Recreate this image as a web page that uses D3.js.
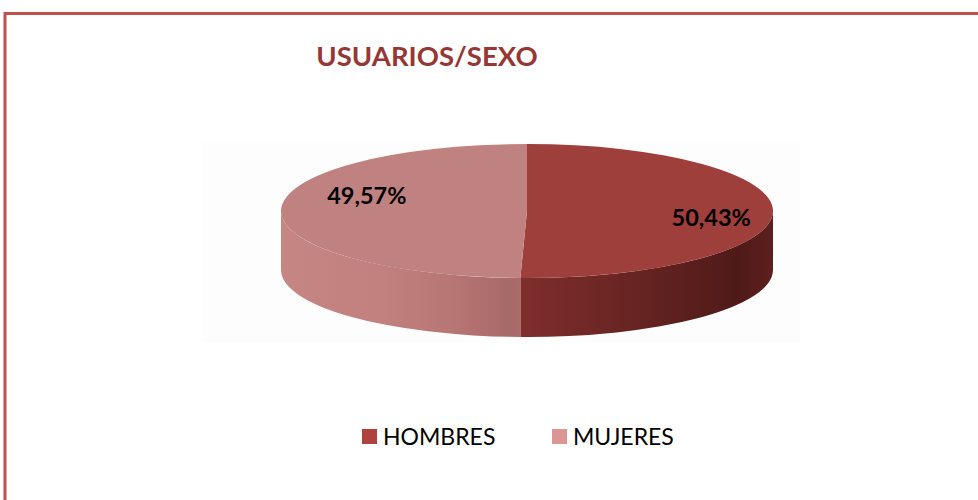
<!DOCTYPE html>
<html>
<head>
<meta charset="utf-8">
<script src="https://cdn.jsdelivr.net/npm/d3@7"></script>
<style>
  html, body { margin: 0; padding: 0; background: #fff; }
  svg { display: block; }
  text { font-family: Lato, "Open Sans", sans-serif; }
</style>
</head>
<body>
<svg id="chart" width="978" height="500"></svg>
<script>
(function () {
    'use strict';

    const title = 'USUARIOS/SEXO';
    const categories = ['HOMBRES', 'MUJERES'];
    const values = [50.43, 49.57];

    const topColors = ['#9f3f3c', '#c08280'];
    const legendColors = ['#b0413e', '#d99694'];
    const sideStops = [
        [[0.48, '#802e2c'], [0.72, '#672422'], [0.93, '#4f1a18'], [1, '#5c201e']],
        [[0, '#c58684'], [0.2, '#c2807e'], [0.36, '#b67472'], [0.46, '#a86a69'], [0.5, '#ad6c6b']],
    ];

    const W = 978, H = 500;
    const cx = 527, cy = 211, rx = 246, ry = 67, depth = 59;

    const svg = d3.select('#chart');

    // frame, runs off the right and bottom edges
    svg.append('rect')
        .attr('x', 5).attr('y', 13.5)
        .attr('width', W + 20).attr('height', H + 20)
        .attr('fill', 'none')
        .attr('stroke', '#c0504d')
        .attr('stroke-width', 3);

    // faint pasted-picture background
    svg.append('rect')
        .attr('x', 202).attr('y', 143)
        .attr('width', 598).attr('height', 200)
        .attr('fill', '#fdfdfd');

    svg.append('text')
        .attr('x', 427).attr('y', 66)
        .attr('text-anchor', 'middle')
        .attr('font-size', 27.5)
        .attr('font-weight', 700)
        .attr('fill', '#953735')
        .text(title);

    const pie = d3.pie().sort(null).startAngle(0).endAngle(2 * Math.PI);
    const arcs = pie(values);

    const pt = (a, f = 1, dy = 0) => [cx + rx * f * Math.sin(a), cy - ry * f * Math.cos(a) + dy];

    const defs = svg.append('defs');
    sideStops.forEach((stops, i) => {
        const g = defs.append('linearGradient')
            .attr('id', 'side' + i)
            .attr('gradientUnits', 'userSpaceOnUse')
            .attr('x1', cx - rx).attr('x2', cx + rx)
            .attr('y1', 0).attr('y2', 0);
        stops.forEach(([o, c]) => g.append('stop').attr('offset', o).attr('stop-color', c));
    });

    const pieG = svg.append('g');

    // visible side walls (front half of the ellipse)
    arcs.forEach((d, i) => {
        const s = Math.max(d.startAngle, Math.PI / 2);
        const e = Math.min(d.endAngle, 3 * Math.PI / 2);
        if (e <= s) return;
        const p0 = pt(s), p1 = pt(e), q1 = pt(e, 1, depth), q0 = pt(s, 1, depth);
        const large = e - s > Math.PI ? 1 : 0;
        pieG.append('path')
            .attr('d', `M${p0}A${rx},${ry} 0 ${large} 1 ${p1}L${q1}A${rx},${ry} 0 ${large} 0 ${q0}Z`)
            .attr('fill', `url(#side${i})`);
    });

    // top faces
    arcs.forEach((d, i) => {
        const p0 = pt(d.startAngle), p1 = pt(d.endAngle);
        const large = d.endAngle - d.startAngle > Math.PI ? 1 : 0;
        pieG.append('path')
            .attr('d', `M${cx},${cy}L${p0}A${rx},${ry} 0 ${large} 1 ${p1}Z`)
            .attr('fill', topColors[i]);
    });

    // data labels
    const labelNudge = [[12, 5], [12, -15]];
    const fmt = (v) => v.toFixed(2).replace('.', ',') + '%';
    arcs.forEach((d, i) => {
        const mid = (d.startAngle + d.endAngle) / 2;
        const [x, y] = pt(mid, 0.7);
        svg.append('text')
            .attr('x', x + labelNudge[i][0])
            .attr('y', y + labelNudge[i][1])
            .attr('text-anchor', 'middle')
            .attr('dominant-baseline', 'central')
            .attr('font-size', 23.5)
            .attr('font-weight', 700)
            .attr('fill', '#000')
            .text(fmt(d.data));
    });

    // legend
    const legendX = d3.scalePoint().domain(categories).range([362, 552]);
    const legend = svg.append('g');
    categories.forEach((c, i) => {
        const x = legendX(c);
        legend.append('rect')
            .attr('x', x).attr('y', 429)
            .attr('width', 15).attr('height', 15)
            .attr('fill', legendColors[i]);
        legend.append('text')
            .attr('x', x + 21).attr('y', 444.5)
            .attr('font-size', 23)
            .attr('fill', '#000')
            .text(c);
    });
})();
</script>
</body>
</html>
